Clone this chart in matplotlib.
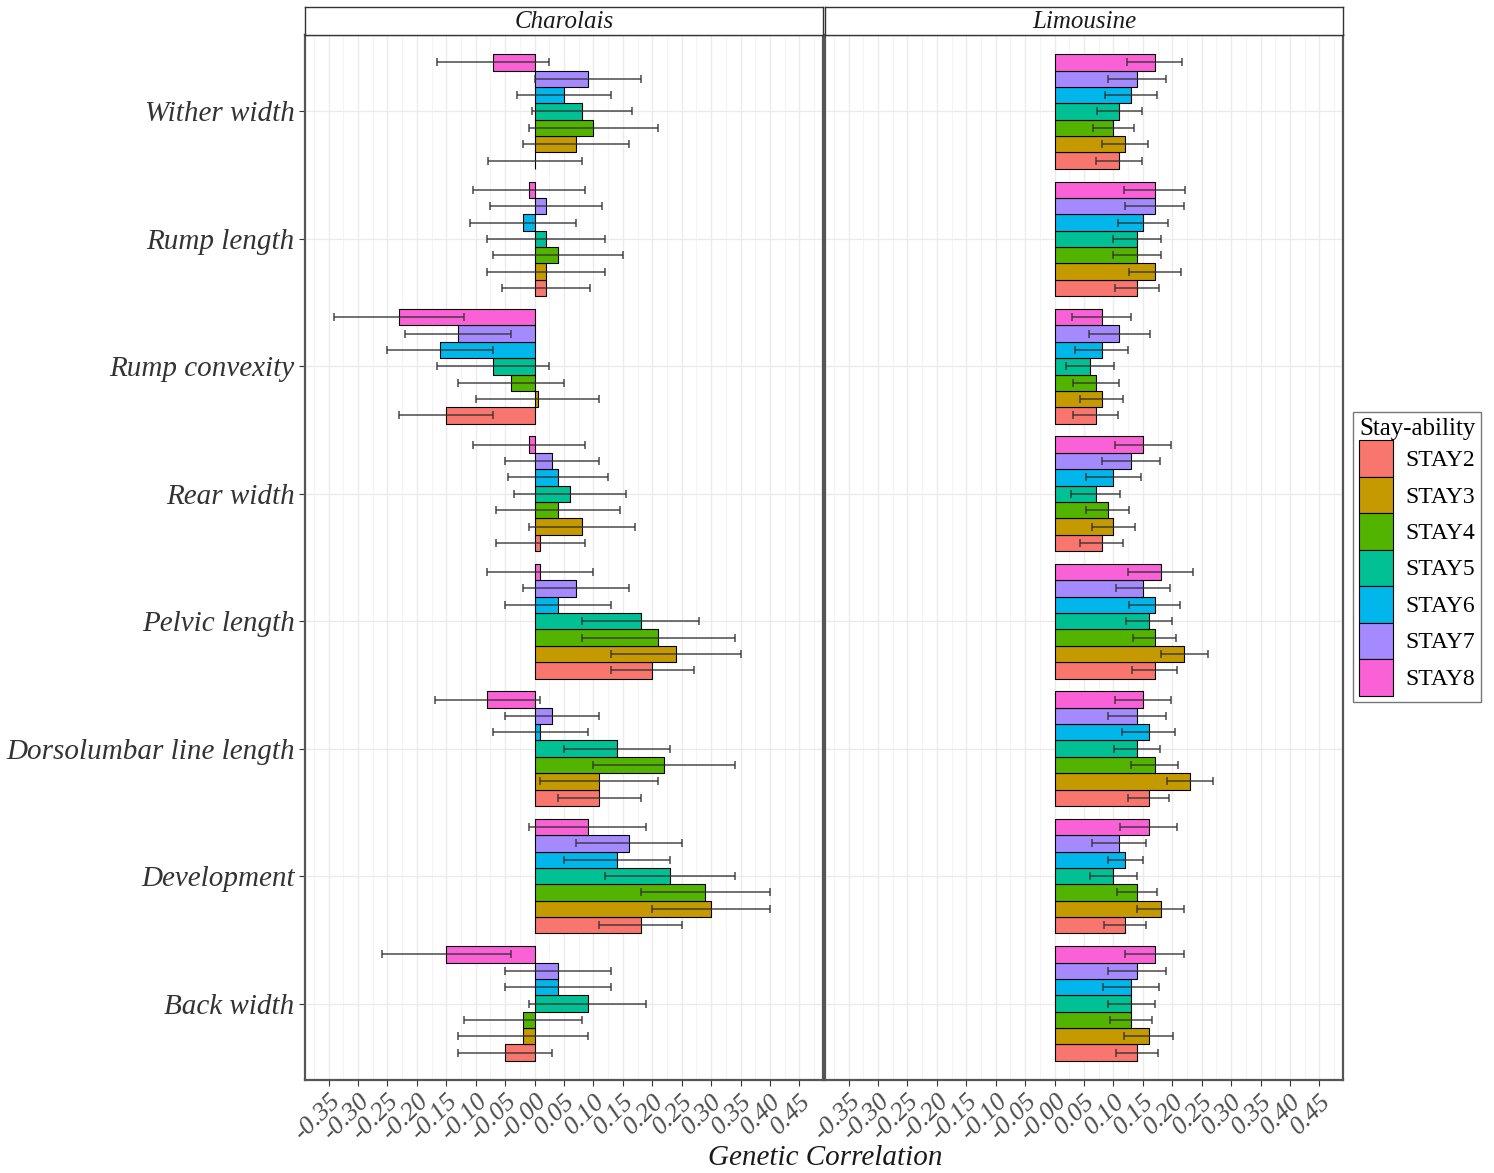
import matplotlib
matplotlib.use("Agg")
import matplotlib.pyplot as plt
from matplotlib.patches import Patch
import numpy as np

plt.rcParams['font.family'] = ['Liberation Serif', 'DejaVu Serif']

traits = ["Back width", "Development", "Dorsolumbar line length", "Pelvic length",
          "Rear width", "Rump convexity", "Rump length", "Wither width"]
stays = ["STAY2", "STAY3", "STAY4", "STAY5", "STAY6", "STAY7", "STAY8"]
colors = ["#F8766D", "#C49A00", "#53B400", "#00C094", "#00B6EB", "#A58AFF", "#FB61D7"]

# genetic correlations, rows = traits (same order as above), cols = STAY2..STAY8
charolais_r = [
    [-0.05, -0.02, -0.02, 0.09, 0.04, 0.04, -0.15],   # Back width
    [0.18, 0.30, 0.29, 0.23, 0.14, 0.16, 0.09],       # Development
    [0.11, 0.11, 0.22, 0.14, 0.01, 0.03, -0.08],      # Dorsolumbar line length
    [0.20, 0.24, 0.21, 0.18, 0.04, 0.07, 0.01],       # Pelvic length
    [0.01, 0.08, 0.04, 0.06, 0.04, 0.03, -0.01],      # Rear width
    [-0.15, 0.005, -0.04, -0.07, -0.16, -0.13, -0.23],  # Rump convexity
    [0.02, 0.02, 0.04, 0.02, -0.02, 0.02, -0.01],     # Rump length
    [0.001, 0.07, 0.10, 0.08, 0.05, 0.09, -0.07],     # Wither width
]
charolais_se = [
    [0.08, 0.11, 0.10, 0.10, 0.09, 0.09, 0.11],
    [0.07, 0.10, 0.11, 0.11, 0.09, 0.09, 0.10],
    [0.07, 0.10, 0.12, 0.09, 0.08, 0.08, 0.09],
    [0.07, 0.11, 0.13, 0.10, 0.09, 0.09, 0.09],
    [0.075, 0.09, 0.105, 0.095, 0.085, 0.08, 0.095],
    [0.08, 0.105, 0.09, 0.095, 0.09, 0.09, 0.11],
    [0.075, 0.10, 0.11, 0.10, 0.09, 0.095, 0.095],
    [0.08, 0.09, 0.11, 0.085, 0.08, 0.09, 0.095],
]

limousine_r = [
    [0.14, 0.16, 0.13, 0.13, 0.13, 0.14, 0.17],
    [0.12, 0.18, 0.14, 0.10, 0.12, 0.11, 0.16],
    [0.16, 0.23, 0.17, 0.14, 0.16, 0.14, 0.15],
    [0.17, 0.22, 0.17, 0.16, 0.17, 0.15, 0.18],
    [0.08, 0.10, 0.09, 0.07, 0.10, 0.13, 0.15],
    [0.07, 0.08, 0.07, 0.06, 0.08, 0.11, 0.08],
    [0.14, 0.17, 0.14, 0.14, 0.15, 0.17, 0.17],
    [0.11, 0.12, 0.10, 0.11, 0.13, 0.14, 0.17],
]
limousine_se = [
    [0.036, 0.042, 0.035, 0.04, 0.047, 0.05, 0.05],
    [0.036, 0.04, 0.034, 0.04, 0.03, 0.046, 0.048],
    [0.035, 0.039, 0.04, 0.039, 0.045, 0.05, 0.048],
    [0.038, 0.04, 0.037, 0.039, 0.043, 0.046, 0.055],
    [0.037, 0.037, 0.036, 0.042, 0.046, 0.049, 0.048],
    [0.038, 0.037, 0.039, 0.041, 0.045, 0.052, 0.05],
    [0.037, 0.044, 0.04, 0.04, 0.043, 0.05, 0.052],
    [0.039, 0.039, 0.035, 0.038, 0.044, 0.05, 0.047],
]

breeds = ["Charolais", "Limousine"]
xticks = np.arange(-0.35, 0.451, 0.05)

fig = plt.figure(figsize=(14.94, 11.73), dpi=100)
W, H = 1494, 1173

def fx(px):
    return px / W

def fy(py):
    return 1 - py / H

panel_lefts = [305, 825]
panel_w = 518
top, bottom = 35, 1080

n_traits = len(traits)
n_s = len(stays)
bar_h = 0.9 / n_s
ypos = np.arange(1, n_traits + 1)

for bi, (breed, r, se) in enumerate(zip(breeds, [charolais_r, limousine_r],
                                        [charolais_se, limousine_se])):
    r = np.array(r)
    se = np.array(se)
    left = panel_lefts[bi]
    ax = fig.add_axes([fx(left), fy(bottom), fx(panel_w), (bottom - top) / H])
    ax.set_xlim(-0.39, 0.49)
    ax.set_ylim(0.4, n_traits + 0.6)
    ax.set_xticks(xticks)
    ax.set_xticks(np.arange(-0.375, 0.49, 0.05), minor=True)
    ax.grid(True, which='major', color='#EBEBEB', lw=1.0)
    ax.grid(True, which='minor', axis='x', color='#F4F4F4', lw=0.8)
    ax.set_axisbelow(True)
    for j in range(n_s):
        y = ypos - 0.45 + bar_h * (j + 0.5)
        ax.barh(y, r[:, j], height=bar_h, color=colors[j], edgecolor='black',
                linewidth=0.8, zorder=2)
        ax.errorbar(r[:, j], y, xerr=se[:, j], fmt='none', ecolor='#333333',
                    elinewidth=1.3, capsize=3, capthick=1.3, alpha=0.75, zorder=3)
    ax.set_xticklabels([f"{t:.2f}" for t in xticks], rotation=45, ha='right',
                       va='top', rotation_mode='anchor', fontsize=19,
                       fontstyle='italic', color='#4D4D4D')
    ax.tick_params(axis='x', which='major', length=4, color='#333333', pad=3)
    ax.tick_params(axis='x', which='minor', length=0)
    ax.set_yticks(ypos)
    if bi == 0:
        ax.set_yticklabels(traits, fontsize=21, fontstyle='italic', color='#333333')
        ax.tick_params(axis='y', length=4, color='#333333')
    else:
        ax.set_yticklabels([])
        ax.tick_params(axis='y', length=0)
    for sp in ax.spines.values():
        sp.set_color('#555555')
        sp.set_linewidth(1.6)

    # facet strip
    sax = fig.add_axes([fx(left), fy(top), fx(panel_w), (top - 7) / H])
    sax.set_xticks([])
    sax.set_yticks([])
    for sp in sax.spines.values():
        sp.set_color('#333333')
        sp.set_linewidth(1.0)
    sax.text(0.5, 0.45, breed, ha='center', va='center', fontsize=18,
             fontstyle='italic', color='#1A1A1A', transform=sax.transAxes)

fig.text(fx(825), fy(1158), "Genetic Correlation", ha='center', va='center',
         fontsize=21, fontstyle='italic', color='#1A1A1A')

handles = [Patch(facecolor=c, edgecolor='black', linewidth=0.8) for c in colors]
leg = fig.legend(handles, stays, title="Stay-ability", loc='center left',
                 bbox_to_anchor=(fx(1353), fy(557)), fontsize=17, title_fontsize=18,
                 handlelength=1.45, handleheight=2.0, labelspacing=0.0,
                 handletextpad=0.5, borderpad=0.25, borderaxespad=0.0,
                 fancybox=False, frameon=True, edgecolor='#555555', alignment='left')
leg.get_frame().set_linewidth(1.0)

fig.savefig("out.png", dpi=100)
